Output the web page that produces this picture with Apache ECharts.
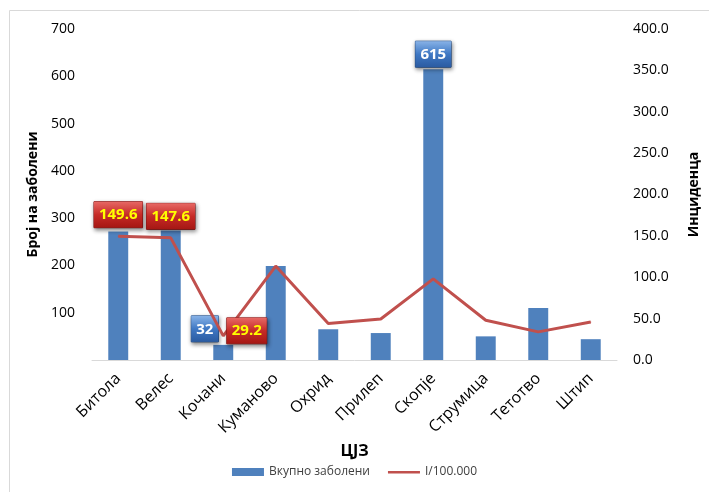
<!DOCTYPE html>
<html>
<head>
<meta charset="utf-8">
<script src="https://cdn.jsdelivr.net/npm/echarts@6/dist/echarts.min.js"></script>
<style>
html,body{margin:0;padding:0;background:#fff;}
#c{width:709px;height:492px;}
</style>
</head>
<body>
<div id="c"></div>
<script>
const categories = ['Битола','Велес','Кочани','Куманово','Охрид','Прилеп','Скопје','Струмица','Тетотво','Штип'];
const totalCases = [272, 274, 32, 199, 65, 57, 615, 50, 110, 44];
const incidence = [149.6, 147.6, 29.2, 113.5, 44, 49.5, 98, 48, 34, 46];

const FONT = '"Open Sans", "Liberation Sans", sans-serif';
const redBox = {
  show: true,
  color: '#ffff00',
  fontWeight: 'bold',
  fontSize: 15,
  fontFamily: FONT,
  padding: [6, 5, 5, 5],
  borderColor: '#8a1010',
  borderWidth: 0.5,
  backgroundColor: new echarts.graphic.LinearGradient(0, 0, 0, 1, [
    {offset: 0, color: '#e86a66'}, {offset: 0.5, color: '#c62b27'}, {offset: 1, color: '#a41612'}
  ]),
  shadowBlur: 4, shadowColor: 'rgba(0,0,0,0.45)', shadowOffsetX: 1, shadowOffsetY: 2
};
const blueBox = {
  show: true,
  color: '#ffffff',
  fontWeight: 'bold',
  fontSize: 15,
  fontFamily: FONT,
  padding: [6, 5, 5, 5],
  borderColor: '#1f4f8f',
  borderWidth: 0.5,
  backgroundColor: new echarts.graphic.LinearGradient(0, 0, 0, 1, [
    {offset: 0, color: '#8ab4e8'}, {offset: 0.5, color: '#3f78c4'}, {offset: 1, color: '#2a5aa0'}
  ]),
  shadowBlur: 4, shadowColor: 'rgba(0,0,0,0.45)', shadowOffsetX: 1, shadowOffsetY: 2
};

const barData = totalCases.map((v, i) => {
  const d = {value: v};
  if (i === 2) d.label = Object.assign({}, blueBox, {position: [-22, -29]});
  if (i === 6) d.label = Object.assign({}, blueBox, {position: 'top', distance: 2});
  return d;
});
const lineData = incidence.map((v, i) => {
  const d = {value: v};
  if (i === 0 || i === 1) d.label = Object.assign({}, redBox, {position: 'top', distance: 8});
  if (i === 2) d.label = Object.assign({}, redBox, {position: 'right', distance: 3, offset: [0, -5]});
  return d;
});

const chart = echarts.init(document.getElementById('c'), null, {renderer: 'canvas'});
chart.setOption({
  animation: false,
  textStyle: {fontFamily: FONT},
  graphic: [{
    type: 'rect', left: 7, top: 8, z: -10,
    shape: {width: 702, height: 482},
    style: {fill: 'none', stroke: '#d9d9d9', lineWidth: 1}
  }],
  grid: {left: 92, right: 82, top: 29, bottom: 132, containLabel: false},
  legend: {
    bottom: 9, left: 'center',
    itemWidth: 32, itemHeight: 8, itemGap: 18,
    textStyle: {fontSize: 12, color: '#404040', fontFamily: FONT},
    data: [
      {name: 'Вкупно заболени', icon: 'rect'},
      {name: 'I/100.000', icon: 'path://M0,0 L0.01,0 L0.01,0.01 Z M0,3 L32,3 L32,5.4 L0,5.4 Z M31.99,8 L32,8 L32,7.99 Z', itemStyle: {color: '#c0504d'}}
    ]
  },
  xAxis: {
    type: 'category',
    data: categories,
    name: 'ЦЈЗ',
    nameLocation: 'middle',
    nameGap: 78,
    nameTextStyle: {fontSize: 16, fontWeight: 'bold', color: '#000'},
    axisLine: {lineStyle: {color: '#d9d9d9'}},
    axisTick: {show: false},
    axisLabel: {rotate: 45, fontSize: 16, color: '#000', margin: 16, interval: 0}
  },
  yAxis: [{
    type: 'value', min: 0, max: 700, interval: 100,
    name: 'Број на заболени',
    nameLocation: 'middle', nameGap: 47, nameRotate: 90,
    nameTextStyle: {fontSize: 14, fontWeight: 'bold', color: '#000'},
    axisLine: {show: false}, axisTick: {show: false},
    splitLine: {show: false},
    axisLabel: {fontSize: 14, color: '#000', margin: 17, formatter: v => v === 0 ? '' : String(v)}
  }, {
    type: 'value', min: 0, max: 400, interval: 50,
    name: 'Инциденца',
    nameLocation: 'middle', nameGap: 70, nameRotate: 90,
    nameTextStyle: {fontSize: 14, fontWeight: 'bold', color: '#000'},
    axisLine: {show: false}, axisTick: {show: false},
    splitLine: {show: false},
    axisLabel: {fontSize: 14, color: '#000', margin: 16, formatter: v => v.toFixed(1)}
  }],
  series: [{
    name: 'Вкупно заболени',
    type: 'bar',
    yAxisIndex: 0,
    barWidth: '38%',
    itemStyle: {color: '#4f81bd'},
    data: barData,
    z: 2
  }, {
    name: 'I/100.000',
    type: 'line',
    yAxisIndex: 1,
    symbol: 'circle',
    symbolSize: 1,
    showSymbol: true,
    lineStyle: {color: '#c0504d', width: 3},
    itemStyle: {color: '#c0504d'},
    data: lineData,
    z: 3
  }]
});
</script>
</body>
</html>
